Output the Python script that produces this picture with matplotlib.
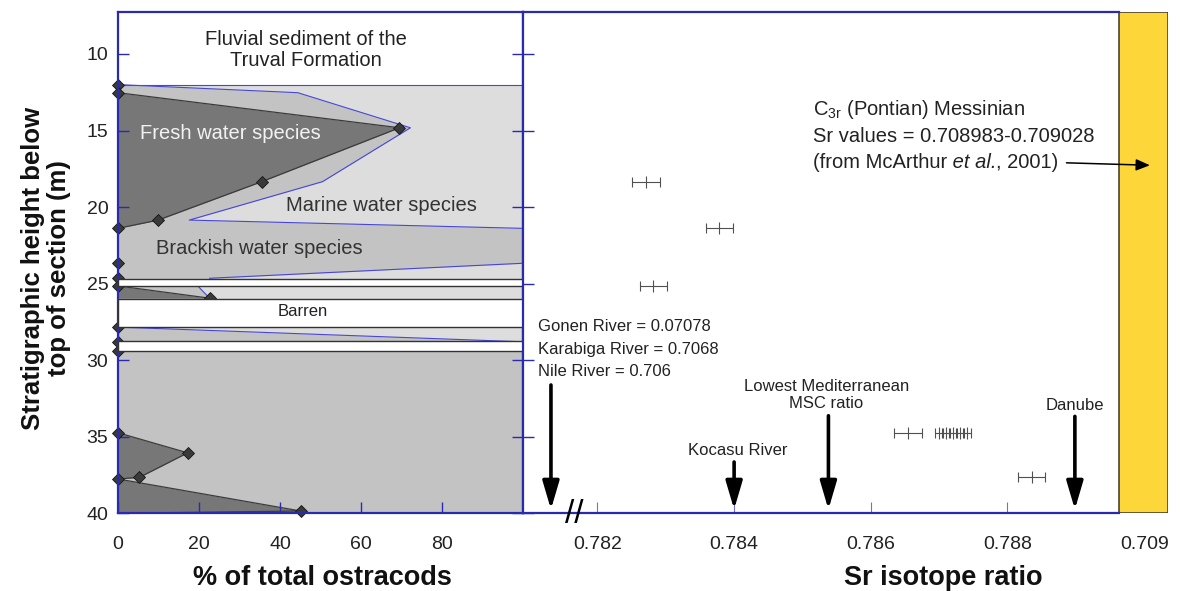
import matplotlib
matplotlib.use('Agg')
import matplotlib.pyplot as plt

plt.rcParams['font.family'] = ['Liberation Sans', 'DejaVu Sans']
plt.rcParams['mathtext.fontset'] = 'custom'
plt.rcParams['mathtext.rm'] = 'Liberation Sans'
plt.rcParams['mathtext.it'] = 'Liberation Sans:italic'
plt.rcParams['mathtext.bf'] = 'Liberation Sans:bold'

# ---------------- data ----------------
# ostracod assemblage segments (depth in m, % fresh, % fresh+brackish)
seg_depth = [[12.0, 12.53, 14.82, 18.34, 20.85, 21.39, 23.67, 24.65],
             [25.15, 25.95],
             [27.84, 28.8],
             [29.4, 34.74, 36.05, 37.65, 37.76, 39.85, 40.0]]
seg_fresh = [[0, 0, 69.5, 35.5, 9.9, 0, 0, 0],
             [0, 22.6],
             [0, 0],
             [0, 0, 17.2, 5.3, 0, 45.1, 0]]
seg_cum = [[0, 44.4, 72.2, 50.5, 17.6, 100, 100, 22.6],
           [19.7, 22.6],
           [0, 100],
           [100, 100, 100, 100, 100, 100, 100]]
barren_top = [24.7, 26.0, 28.77]
barren_bottom = [25.15, 27.85, 29.4]
pct_ticks = [0, 20, 40, 60, 80]
depth_ticks = [10, 15, 20, 25, 30, 35, 40]

# Sr isotope measurements
sr_value = [0.782709, 0.783783, 0.782816, 0.786542,
            0.787000, 0.787098, 0.787202, 0.787310, 0.787407, 0.788353]
sr_depth = [18.36, 21.37, 25.18, 34.76,
            34.76, 34.76, 34.76, 34.76, 34.76, 37.61]
sr_err = [0.0002, 0.0002, 0.0002, 0.0002,
          0.00006, 0.00006, 0.00006, 0.00006, 0.00006, 0.0002]
sr_ticks = [0.782, 0.784, 0.786, 0.788, 0.79]
sr_tick_labels = ['0.782', '0.784', '0.786', '0.788', '0.709']
sr_xlim = (0.780911, 0.790353)
messinian_band = (0.789635, 0.790353)

# reference arrows (river / reference ratios)
ref_names = ['Nile', 'Kocasu River', 'Lowest Mediterranean\nMSC ratio', 'Danube']
ref_x = [0.78132, 0.784, 0.78538, 0.788986]
ref_arrow_top = [31.62, 36.65, 33.63, 33.67]

# ---------------- figure ----------------
W, H = 1183, 591
fig = plt.figure(figsize=(W / 100, H / 100), dpi=100)


def fx(px):
    return px / W


def fy(py):
    return 1 - py / H


TOP, BOT = 11.7, 513.3
axL = fig.add_axes([fx(118), fy(BOT), fx(523) - fx(118), fy(TOP) - fy(BOT)])
axR = fig.add_axes([fx(523), fy(BOT), fx(1168.3) - fx(523), fy(TOP) - fy(BOT)])

BLUE = '#2a2ab0'
BLUE_LINE = '#4646d8'
FRESH = '#777777'
BRACK = '#c3c3c3'
MARINE = '#dddddd'
TXT = '#222222'

# ---- left panel ----
axL.set_xlim(0, 100)
axL.set_ylim(40, 7.24)
axL.axhspan(seg_depth[0][0], 40, color=MARINE, lw=0, zorder=0)
for d, f, c in zip(seg_depth, seg_fresh, seg_cum):
    axL.fill_betweenx(d, 0, c, color=BRACK, lw=0, zorder=1)
    axL.fill_betweenx(d, 0, f, color=FRESH, lw=0, zorder=1.5)
    axL.plot(c, d, color=BLUE_LINE, lw=0.8, zorder=2)
    axL.plot(f, d, color='#3c3c3c', lw=0.9, zorder=2)
    md = [dd for dd in d if dd < 40]
    mf = [ff for dd, ff in zip(d, f) if dd < 40]
    axL.plot(mf, md, 'D', ms=6, mfc='#3a3a3a', mec='#151515', mew=0.6,
             clip_on=False, zorder=2.5)
axL.axhline(seg_depth[0][0], color=BLUE_LINE, lw=0.8, zorder=2)
for a, b in zip(barren_top, barren_bottom):
    axL.axhspan(a, b, fc='white', ec='#333333', lw=1.0, zorder=3)

axL.text(46.4, 9.75, 'Fluvial sediment of the\nTruval Formation', ha='center',
         va='center', fontsize=14.5, color=TXT, linespacing=1.1)
axL.text(5.5, 15.17, 'Fresh water species', ha='left', va='center',
         fontsize=14.5, color='#f2f2f2', zorder=4)
axL.text(65, 19.89, 'Marine water species', ha='center', va='center',
         fontsize=14.5, color='#333333', zorder=4)
axL.text(34.9, 22.68, 'Brackish water species', ha='center', va='center',
         fontsize=14.5, color='#333333', zorder=4)
axL.text(45.5, 26.85, 'Barren', ha='center', va='center', fontsize=12,
         color=TXT, zorder=4)

axL.set_xticks(pct_ticks)
axL.set_xticklabels([str(v) for v in pct_ticks])
axL.set_yticks(depth_ticks)
axL.set_yticklabels([str(v) for v in depth_ticks])
axL.tick_params(axis='y', direction='in', left=True, right=True, length=8,
                width=1, color=BLUE, labelsize=14, labelcolor=TXT, pad=7)
axL.tick_params(axis='x', direction='in', length=8, width=1, color=BLUE,
                labelsize=14, labelcolor=TXT, pad=16)
for s in axL.spines.values():
    s.set_color(BLUE)
    s.set_linewidth(1.6)

# ---- right panel ----
axR.set_xlim(*sr_xlim)
axR.set_ylim(40, 7.24)
axR.axvspan(messinian_band[0], messinian_band[1], fc='#FDD73A', ec='#4a4232',
            lw=1.2, zorder=1)
axR.errorbar(sr_value, sr_depth, xerr=sr_err, fmt='|', ms=8, color='#505050',
             ecolor='#505050', elinewidth=0.8, capsize=3.5, capthick=0.8,
             mew=0.8, zorder=3)

for x, top in zip(ref_x, ref_arrow_top):
    axR.annotate('', xy=(x, 39.75), xytext=(x, top),
                 arrowprops=dict(arrowstyle='-|>,head_length=0.85,head_width=0.25',
                                 lw=2.6, color='black', shrinkA=0, shrinkB=0,
                                 mutation_scale=20), zorder=4)

axR.text(0.781136, 27.78, 'Gonen River = 0.07078', fontsize=12, color=TXT,
         ha='left', va='center')
axR.text(0.781136, 29.3, 'Karabiga River = 0.7068', fontsize=12, color=TXT,
         ha='left', va='center')
axR.text(0.781136, 30.73, 'Nile River = 0.706', fontsize=12, color=TXT,
         ha='left', va='center')
axR.text(ref_x[1] + 0.00005, 35.87, ref_names[1], fontsize=12, color=TXT,
         ha='center', va='center')
axR.text(ref_x[2] - 0.00003, 32.27, ref_names[2], fontsize=12, color=TXT,
         ha='center', va='center', linespacing=1.15)
axR.text(ref_x[3], 32.95, ref_names[3], fontsize=12, color=TXT,
         ha='center', va='center')

axR.text(0.78515, 13.63, r'C$_{\mathrm{3r}}$ (Pontian) Messinian', fontsize=14.5,
         color=TXT, ha='left', va='center')
axR.text(0.78515, 15.37, 'Sr values = 0.708983-0.709028', fontsize=14.5,
         color=TXT, ha='left', va='center')
t1 = axR.text(0.78515, 17.11, '(from McArthur', fontsize=14.5, color=TXT,
              ha='left', va='center')
t2 = axR.annotate(' et al.', xy=(1, 0), xycoords=t1, ha='left', va='bottom',
                  fontsize=14.5, color=TXT, style='italic')
t3 = axR.annotate(', 2001)', xy=(1, 0), xycoords=t2, ha='left', va='bottom',
                  fontsize=14.5, color=TXT)
axR.annotate('', xy=(0.790084, 17.27), xytext=(0.788863, 17.11),
             arrowprops=dict(arrowstyle='-|>,head_length=0.6,head_width=0.25',
                             lw=1.1, color='black', shrinkA=0, shrinkB=0,
                             mutation_scale=14), zorder=4)

# axis break mark
axR.text(0.78166, 40.05, '//', fontsize=24, ha='center', va='center',
         color='black', clip_on=False, zorder=5)

axR.set_xticks(sr_ticks)
axR.set_xticklabels(sr_tick_labels)
axR.set_yticks(depth_ticks)
axR.set_yticklabels([])
axR.tick_params(axis='x', direction='in', length=8, width=0.8,
                color='#7070d0', labelsize=14, labelcolor=TXT, pad=16)
axR.tick_params(axis='y', direction='in', left=True, right=False, length=8,
                width=1, color=BLUE)
axR.xaxis.get_major_ticks()[-1].tick1line.set_visible(False)
axR.spines['right'].set_visible(False)
for k in ['top', 'bottom', 'left']:
    axR.spines[k].set_color(BLUE)
    axR.spines[k].set_linewidth(1.6)
axR.spines['top'].set_bounds(sr_xlim[0], messinian_band[0])
axR.spines['bottom'].set_bounds(sr_xlim[0], messinian_band[0])

# axis titles
fig.text(fx(322), fy(578), '% of total ostracods', fontsize=19.5,
         fontweight='bold', ha='center', va='center', color='#111111')
fig.text(fx(943), fy(578), 'Sr isotope ratio', fontsize=19.5,
         fontweight='bold', ha='center', va='center', color='#111111')
fig.text(fx(46), fy(268), 'Stratigraphic height below\ntop of section (m)',
         fontsize=18.5, fontweight='bold', rotation=90, ha='center',
         va='center', color='#111111', linespacing=1.15)

fig.savefig('out.png', dpi=100)
